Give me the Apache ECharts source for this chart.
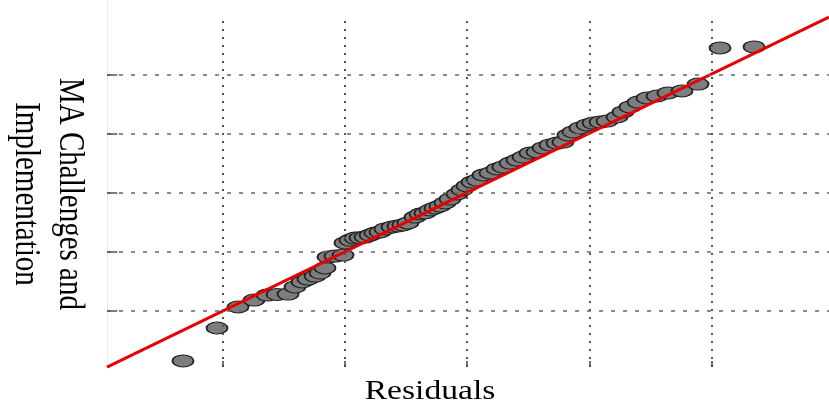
<!DOCTYPE html>
<html><head><meta charset="utf-8">
<script src="https://cdn.jsdelivr.net/npm/echarts@6/dist/echarts.min.js"></script>
<style>html,body{margin:0;padding:0;background:#fff}#c{width:829px;height:405px}</style>
</head><body><div id="c"></div>
<script>
const theoreticalQuantiles = [
  -2.323,-2.045,-1.873,-1.742,-1.636,-1.554,-1.464,-1.407,-1.350,-1.301,
  -1.243,-1.202,-1.162,-1.137,-1.080,-1.014,-0.998,-0.957,-0.916,-0.875,
  -0.834,-0.793,-0.753,-0.712,-0.671,-0.613,-0.564,-0.524,-0.483,-0.425,
  -0.384,-0.344,-0.303,-0.262,-0.221,-0.180,-0.139,-0.082,-0.041,0.000,
  0.041,0.082,0.131,0.188,0.245,0.294,0.352,0.409,0.458,0.515,
  0.573,0.622,0.679,0.736,0.785,0.826,0.867,0.924,0.982,1.031,
  1.088,1.145,1.227,1.276,1.333,1.399,1.472,1.554,1.644,1.759,
  1.890,2.070,2.348
];
const residualQuantiles = [
  -2.847,-2.288,-1.932,-1.814,-1.729,-1.720,-1.712,-1.593,-1.508,-1.458,
  -1.407,-1.356,-1.271,-1.085,-1.068,-1.051,-0.847,-0.797,-0.763,-0.760,
  -0.746,-0.712,-0.678,-0.661,-0.610,-0.576,-0.559,-0.542,-0.508,-0.407,
  -0.356,-0.339,-0.288,-0.254,-0.220,-0.169,-0.102,-0.017,0.051,0.119,
  0.186,0.220,0.305,0.339,0.407,0.441,0.508,0.559,0.610,0.678,
  0.695,0.763,0.814,0.847,0.864,0.983,1.034,1.102,1.153,1.186,
  1.203,1.220,1.288,1.373,1.458,1.542,1.610,1.644,1.695,1.729,
  1.847,2.458,2.475
];
const gridTicksX = [-2,-1,0,1,2];
const gridTicksY = [-2,-1,0,1,2];
const refLineX = [-2.945, 2.961];
const refLineY = [-2.950, 2.980];
const xTitle = 'Residuals';
const yTitle = 'MA Challenges and\nImplementation';

const X_MIN = -2.945, X_MAX = 2.961, Y_MIN = -2.949, Y_MAX = 3.271;
const V_TOP = 2.93;

const points = theoreticalQuantiles.map((x, i) => [x, residualQuantiles[i]]);
const refLine = refLineX.map((x, i) => [x, refLineY[i]]);

const gridLines = [];
gridTicksX.forEach(v => {
  gridLines.push([{coord:[v, Y_MIN], lineStyle:{type:[2,6], width:2, color:'#555'}}, {coord:[v, V_TOP]}]);
  gridLines.push([{coord:[v, Y_MIN], lineStyle:{type:'solid', width:1.5, color:'#444'}}, {coord:[v, Y_MIN + 0.1]}]);
});
gridTicksY.forEach(v => {
  gridLines.push([{coord:[X_MIN, v], lineStyle:{type:[4,8], width:1.5, color:'#666'}}, {coord:[X_MAX, v]}]);
  gridLines.push([{coord:[X_MIN, v], lineStyle:{type:'solid', width:1.5, color:'#555'}}, {coord:[X_MIN + 0.085, v]}]);
});

const chart = echarts.init(document.getElementById('c'), null, {renderer:'canvas'});
chart.setOption({
  animation: false,
  backgroundColor: '#fff',
  grid: {left: 107, right: 0, top: 0, bottom: 38},
  xAxis: {type:'value', min:X_MIN, max:X_MAX, axisLine:{show:false}, axisTick:{show:false}, axisLabel:{show:false}, splitLine:{show:false}},
  yAxis: {type:'value', min:Y_MIN, max:Y_MAX, axisLine:{show:true, onZero:false, lineStyle:{color:'#eeeeee', width:1}}, axisTick:{show:false}, axisLabel:{show:false}, splitLine:{show:false}},
  series: [
    {type:'line', data:[], z:1, silent:true,
     markLine:{silent:true, symbol:['none','none'], label:{show:false}, animation:false, data:gridLines}},
    {type:'scatter', data:points, z:2, symbol:'circle', symbolSize:[21,12],
     itemStyle:{color:'#7d7d7d', borderColor:'#222', borderWidth:1.4, opacity:1}},
    {type:'line', data:refLine, z:3, showSymbol:false, symbol:'none', clip:true,
     lineStyle:{color:'#e60000', width:3}}
  ],
  graphic: [
    {type:'text', x:430, y:392, scaleX:1.2,
     style:{text:xTitle, font:'28px "Liberation Serif"', fill:'#000', textAlign:'center', textVerticalAlign:'middle'}},
    {type:'text', x:47, y:194, rotation:-Math.PI/2, scaleY:1.2,
     style:{text:yTitle, font:'29px "Liberation Serif"', fill:'#000', textAlign:'center', textVerticalAlign:'middle', lineHeight:37}}
  ]
});
</script></body></html>
